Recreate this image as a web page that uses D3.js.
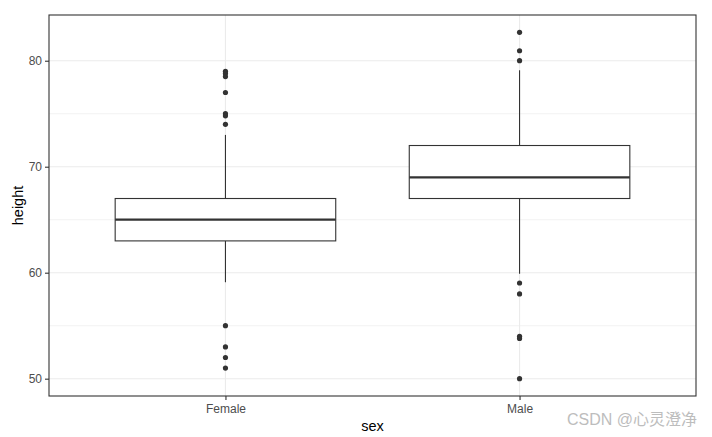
<!DOCTYPE html>
<html>
<head>
<meta charset="utf-8">
<script src="https://cdn.jsdelivr.net/npm/d3@7"></script>
<style>
  body { margin: 0; background: #fff; }
  svg { font-family: Arial, "Liberation Sans", sans-serif; }
</style>
</head>
<body>
<div id="chart"></div>
<script>
const categories = ['Female', 'Male'];
// five-number summary per group: [lower whisker, Q1, median, Q3, upper whisker]
const boxStats = [
  [59.1, 63, 65, 67, 73],
  [59.9, 67, 69, 72, 79.1]
];
const outliers = [
  [79, 78.8, 78.5, 77, 75, 74.8, 74, 55, 53, 52, 51],
  [82.68, 80.94, 80, 59.03, 58, 54, 53.8, 50]
];
const yTicks = [50, 60, 70, 80];
const yMinor = [55, 65, 75];

const W = 712, H = 437;
const m = {top: 15, right: 16, bottom: 41, left: 49};
const w = W - m.left - m.right;
const h = H - m.top - m.bottom;
const dark = '#333333';

const svg = d3.select('#chart').append('svg')
  .attr('width', W).attr('height', H);

const g = svg.append('g').attr('transform', `translate(${m.left},${m.top})`);

// data range + 5% expansion like ggplot
const allVals = boxStats.flat().concat(outliers.flat());
const lo = d3.min(allVals), hi = d3.max(allVals);
const pad = (hi - lo) * 0.05;

const y = d3.scaleLinear().domain([lo - pad, hi + pad]).range([h, 0]);
const x = d3.scalePoint().domain(categories).range([0, w]).padding(0.6);
const boxW = x.step() * 0.75;

// grid
g.selectAll('.minor').data(yMinor).enter().append('line')
  .attr('x1', 0).attr('x2', w)
  .attr('y1', d => y(d)).attr('y2', d => y(d))
  .attr('stroke', '#ebebeb').attr('stroke-width', 0.6);
g.selectAll('.major').data(yTicks).enter().append('line')
  .attr('x1', 0).attr('x2', w)
  .attr('y1', d => y(d)).attr('y2', d => y(d))
  .attr('stroke', '#ebebeb').attr('stroke-width', 1.1);
g.selectAll('.xmajor').data(categories).enter().append('line')
  .attr('x1', d => x(d)).attr('x2', d => x(d))
  .attr('y1', 0).attr('y2', h)
  .attr('stroke', '#ebebeb').attr('stroke-width', 1.1);

// boxes
categories.forEach((c, i) => {
  const s = boxStats[i];
  const cx = x(c);
  g.append('line')
    .attr('x1', cx).attr('x2', cx)
    .attr('y1', y(s[4])).attr('y2', y(s[3]))
    .attr('stroke', dark).attr('stroke-width', 1.1);
  g.append('line')
    .attr('x1', cx).attr('x2', cx)
    .attr('y1', y(s[1])).attr('y2', y(s[0]))
    .attr('stroke', dark).attr('stroke-width', 1.1);
  g.append('rect')
    .attr('x', cx - boxW / 2).attr('width', boxW)
    .attr('y', y(s[3])).attr('height', y(s[1]) - y(s[3]))
    .attr('fill', '#fff').attr('stroke', dark).attr('stroke-width', 1.1);
  g.append('line')
    .attr('x1', cx - boxW / 2).attr('x2', cx + boxW / 2)
    .attr('y1', y(s[2])).attr('y2', y(s[2]))
    .attr('stroke', dark).attr('stroke-width', 2.2);
  g.selectAll('.out' + i).data(outliers[i]).enter().append('circle')
    .attr('cx', cx).attr('cy', d => y(d)).attr('r', 2.6)
    .attr('fill', dark);
});

// panel border
g.append('rect').attr('width', w).attr('height', h)
  .attr('fill', 'none').attr('stroke', dark).attr('stroke-width', 1.1);

// axes
const yAxis = g.append('g')
  .call(d3.axisLeft(y).tickValues(yTicks).tickSize(4).tickPadding(3));
const xAxis = g.append('g').attr('transform', `translate(0,${h})`)
  .call(d3.axisBottom(x).tickSize(4).tickPadding(4));
[yAxis, xAxis].forEach(a => {
  a.select('.domain').remove();
  a.selectAll('.tick line').attr('stroke', dark).attr('stroke-width', 1.1);
  a.selectAll('.tick text').attr('fill', '#4d4d4d').style('font-size', '12px');
});

// titles
svg.append('text')
  .attr('x', m.left + w / 2).attr('y', 431)
  .attr('text-anchor', 'middle').style('font-size', '14.5px').attr('fill', '#000')
  .text('sex');
svg.append('text')
  .attr('transform', `translate(23,${m.top + h / 2}) rotate(-90)`)
  .attr('text-anchor', 'middle').style('font-size', '14.5px').attr('fill', '#000')
  .text('height');

// watermark
svg.append('text')
  .attr('x', 697).attr('y', 425).attr('text-anchor', 'end')
  .style('font-family', 'Arial, "Liberation Sans", "Noto Sans CJK SC", sans-serif')
  .style('font-size', '16px').attr('fill', '#bdbdbd')
  .text('CSDN @心灵澄净');
</script>
</body>
</html>
